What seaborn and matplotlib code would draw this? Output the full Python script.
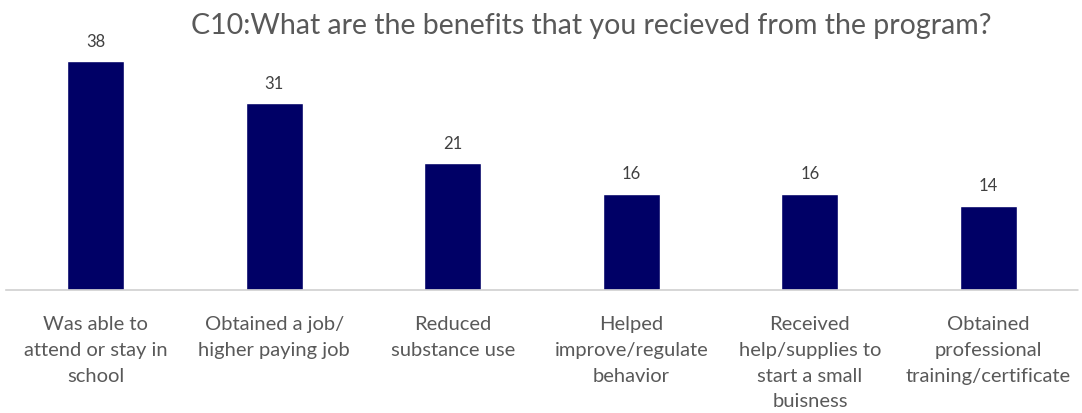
import matplotlib
matplotlib.use("Agg")
import matplotlib.pyplot as plt
import seaborn as sns
import pandas as pd

categories = [
    "Was able to\nattend or stay in\nschool",
    "Obtained a job/\nhigher paying job",
    "Reduced\nsubstance use",
    "Helped\nimprove/regulate\nbehavior",
    "Received\nhelp/supplies to\nstart a small\nbuisness",
    "Obtained\nprofessional\ntraining/certificate",
]
values = [38, 31, 21, 16, 16, 14]
title = "C10:What are the benefits that you recieved from the program?"

sns.set_theme(style="white")
plt.rcParams['font.family'] = ['Lato', 'DejaVu Sans']

df = pd.DataFrame({"cat": categories, "val": values})

fig = plt.figure(figsize=(10.82, 4.13), dpi=100)
ax = fig.add_axes([0.006, 1 - 290 / 413, 0.99, 250 / 413])

sns.barplot(data=df, x="cat", y="val", color="#000066", saturation=1,
            width=0.32, ax=ax)

ax.set_ylim(0, 250 / 6.03)
ax.set_xlim(-0.5, len(categories) - 0.5)
ax.set_xlabel("")
ax.set_ylabel("")
ax.set_yticks([])
for s in ["top", "left", "right"]:
    ax.spines[s].set_visible(False)
ax.spines["bottom"].set_color("#d0d0d0")
ax.spines["bottom"].set_linestyle((0, (1, 1)))
ax.spines["bottom"].set_linewidth(1.2)

ax.tick_params(axis="x", length=0, pad=19, labelsize=14.5, colors="#595959")
for lbl in ax.get_xticklabels():
    lbl.set_linespacing(1.62)
    lbl.set_verticalalignment("top")

for c in ax.containers:
    ax.bar_label(c, labels=[str(v) for v in values], padding=8,
                 fontsize=12, color="#404040")

fig.text(0.546, 0.937, title, ha="center", va="center", fontsize=20.5,
         color="#595959")

fig.savefig("out.png", dpi=100, facecolor="white")
